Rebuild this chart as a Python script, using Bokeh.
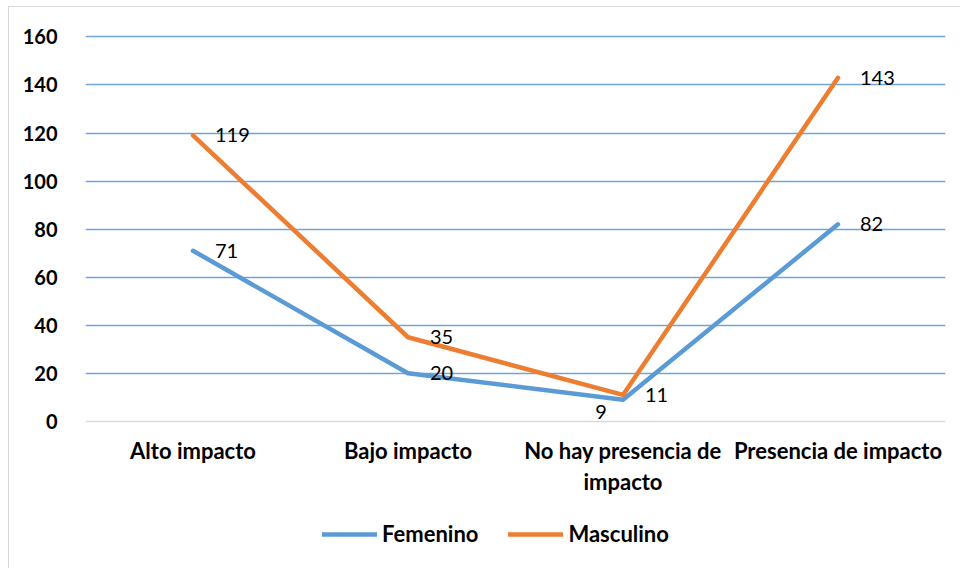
from bokeh.plotting import figure
from bokeh.models import (ColumnDataSource, FactorRange, FixedTicker, Legend,
                          LegendItem, CDSView, IndexFilter)
from bokeh.core.properties import value
from bokeh.embed import file_html
from bokeh.resources import INLINE

categories = ["Alto impacto", "Bajo impacto", "No hay presencia de impacto", "Presencia de impacto"]
femenino = [71, 20, 9, 82]
masculino = [119, 35, 11, 143]
y_ticks = [0, 20, 40, 60, 80, 100, 120, 140, 160]
cat_display = {"No hay presencia de impacto": "No hay presencia de\nimpacto"}

BLUE = "#5B9BD5"
ORANGE = "#ED7D31"
FONT = "Lato"

factors = [cat_display.get(c, c) for c in categories]

src = ColumnDataSource(dict(
    cat=factors,
    fem=femenino,
    mas=masculino,
    fem_txt=[str(v) for v in femenino],
    mas_txt=[str(v) for v in masculino],
))

# frame extends below zero so that category labels and legend sit inside it
p = figure(width=952, height=562, output_backend="svg", toolbar_location=None,
           x_range=FactorRange(factors=factors, range_padding=0),
           y_range=(-60, 161),
           min_border_left=76, min_border_right=16, min_border_top=27, min_border_bottom=4,
           styles={"margin-left": "8px", "margin-top": "6px",
                   "border-left": "1px solid #d9d9d9", "border-top": "1px solid #d9d9d9"})
p.outline_line_color = None
p.background_fill_color = "white"
p.border_fill_color = "white"

# grid
p.xgrid.grid_line_color = None
p.ygrid.ticker = FixedTicker(ticks=y_ticks[1:])
p.ygrid.grid_line_color = "#6FA5DA"
p.ygrid.grid_line_width = 1.6

# y axis
p.yaxis.ticker = FixedTicker(ticks=y_ticks)
p.yaxis.axis_line_color = None
p.yaxis.major_tick_line_color = None
p.yaxis.minor_tick_line_color = None
p.yaxis.major_label_standoff = 22
p.yaxis.major_label_text_font = FONT
p.yaxis.major_label_text_font_style = "bold"
p.yaxis.major_label_text_font_size = "20px"
p.yaxis.major_label_text_color = "black"

# x axis drawn at y = 0
p.xaxis.fixed_location = 0
p.xaxis.axis_line_color = "#D9D9D9"
p.xaxis.axis_line_width = 1.6
p.xaxis.major_tick_line_color = None
p.xaxis.minor_tick_line_color = None
p.xaxis.major_label_standoff = 10
p.xaxis.major_label_text_font = FONT
p.xaxis.major_label_text_font_style = "bold"
p.xaxis.major_label_text_font_size = "22px"
p.xaxis.major_label_text_color = "black"
p.xaxis.major_label_text_line_height = 1.12

# lines
r_f = p.line("cat", "fem", source=src, line_color=BLUE, line_width=4.5, line_cap="round", line_join="round")
r_m = p.line("cat", "mas", source=src, line_color=ORANGE, line_width=4.5, line_cap="round", line_join="round")

# data labels
common = dict(text_font=value(FONT), text_font_size="20px", text_color="black",
              text_baseline="middle")
p.text("cat", "fem", text="fem_txt", source=src, view=CDSView(filter=IndexFilter([0, 1, 3])),
       text_align="left", x_offset=22, **common)
p.text("cat", "fem", text="fem_txt", source=src, view=CDSView(filter=IndexFilter([2])),
       text_align="center", x_offset=-22, y_offset=12, **common)
p.text("cat", "mas", text="mas_txt", source=src,
       text_align="left", x_offset=22, **common)

legend = Legend(items=[LegendItem(label="Femenino", renderers=[r_f]),
                       LegendItem(label="Masculino", renderers=[r_m])],
                location=(237, 18), orientation="horizontal",
                glyph_width=55, glyph_height=20, label_height=20, label_standoff=5,
                spacing=30, padding=0, margin=0, border_line_color=None,
                background_fill_alpha=0,
                label_text_font=FONT, label_text_font_style="bold",
                label_text_font_size="22px", label_text_color="black")
p.add_layout(legend, "center")

open("out.html", "w").write(file_html(p, INLINE))
